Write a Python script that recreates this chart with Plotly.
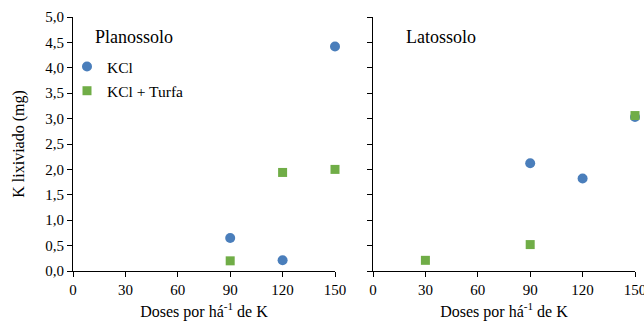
import plotly.graph_objects as go

doses_plan_kcl = [90, 120, 150]
k_plan_kcl = [0.65, 0.21, 4.42]
doses_plan_turfa = [90, 120, 150]
k_plan_turfa = [0.20, 1.94, 2.00]

doses_lat_kcl = [90, 120, 150]
k_lat_kcl = [2.12, 1.82, 3.03]
doses_lat_turfa = [30, 90, 150]
k_lat_turfa = [0.21, 0.52, 3.06]

x_ticks = [0, 30, 60, 90, 120, 150]
y_ticks = [0, 0.5, 1, 1.5, 2, 2.5, 3, 3.5, 4, 4.5, 5]
y_labels = ["0,0", "0,5", "1,0", "1,5", "2,0", "2,5", "3,0", "3,5", "4,0", "4,5", "5,0"]

BLUE = "#4a7ebb"
GREEN = "#70ad47"
FONT = "Liberation Serif"

fig = go.Figure()
fig.add_trace(go.Scatter(x=doses_plan_kcl, y=k_plan_kcl, mode="markers", name="KCl",
                         marker=dict(symbol="circle", size=10, color=BLUE),
                         xaxis="x", yaxis="y", cliponaxis=False, legendgroup="a"))
fig.add_trace(go.Scatter(x=doses_plan_turfa, y=k_plan_turfa, mode="markers", name="KCl + Turfa",
                         marker=dict(symbol="square", size=9, color=GREEN),
                         xaxis="x", yaxis="y", cliponaxis=False, legendgroup="b"))
fig.add_trace(go.Scatter(x=doses_lat_kcl, y=k_lat_kcl, mode="markers", name="KCl",
                         marker=dict(symbol="circle", size=10, color=BLUE),
                         xaxis="x2", yaxis="y2", cliponaxis=False, showlegend=False))
fig.add_trace(go.Scatter(x=doses_lat_turfa, y=k_lat_turfa, mode="markers", name="KCl + Turfa",
                         marker=dict(symbol="square", size=9, color=GREEN),
                         xaxis="x2", yaxis="y2", cliponaxis=False, showlegend=False))

W, H = 644, 321
ml, mr, mt, mb = 73, 9, 17, 50
pw = W - ml - mr
ph = H - mt - mb
d1 = [0, 262 / pw]
d2 = [300 / pw, 1]

axis_common = dict(showgrid=False, zeroline=False, showline=True, linecolor="black", linewidth=1,
                   ticks="outside", ticklen=5, tickcolor="black", tickwidth=1, automargin=False,
                   ticklabeloverflow="allow",
                   tickfont=dict(family=FONT, size=15, color="black"))

xtitle = dict(text="Doses por há<sup>-1</sup> de K", font=dict(family=FONT, size=16, color="black"), standoff=8)

fig.update_layout(
    width=W, height=H,
    margin=dict(l=ml, r=mr, t=mt, b=mb),
    plot_bgcolor="white", paper_bgcolor="white",
    font=dict(family=FONT, color="black"),
    xaxis=dict(domain=d1, range=[0, 150], tickvals=x_ticks, title=xtitle, **axis_common),
    xaxis2=dict(domain=d2, range=[0, 150], tickvals=x_ticks, title=xtitle, anchor="y2", **axis_common),
    yaxis=dict(range=[0, 5], tickvals=y_ticks, ticktext=y_labels,
               title=dict(text="K lixiviado (mg)", font=dict(family=FONT, size=16, color="black"), standoff=16),
               **axis_common),
    yaxis2=dict(range=[0, 5], tickvals=y_ticks, showticklabels=False, anchor="x2", **axis_common),
    legend=dict(x=(87 - 20 - ml) / pw, y=1 - (50 - mt) / ph, xanchor="left", yanchor="top",
                font=dict(family=FONT, size=15.5, color="black"), bgcolor="rgba(0,0,0,0)",
                itemwidth=30, tracegroupgap=1),
    showlegend=True,
    annotations=[
        dict(text="Planossolo", x=(93 - ml) / pw, y=1 - (37 - mt) / ph, xref="paper", yref="paper",
             xanchor="left", yanchor="middle", showarrow=False,
             font=dict(family=FONT, size=18, color="black")),
        dict(text="Latossolo", x=d2[0] + (404 - ml - 300) / pw, y=1 - (37 - mt) / ph,
             xref="paper", yref="paper", xanchor="left", yanchor="middle", showarrow=False,
             font=dict(family=FONT, size=18, color="black")),
    ],
)

fig.write_html("out.html", config={"displayModeBar": False},
               post_script="document.body.style.margin='0';")
